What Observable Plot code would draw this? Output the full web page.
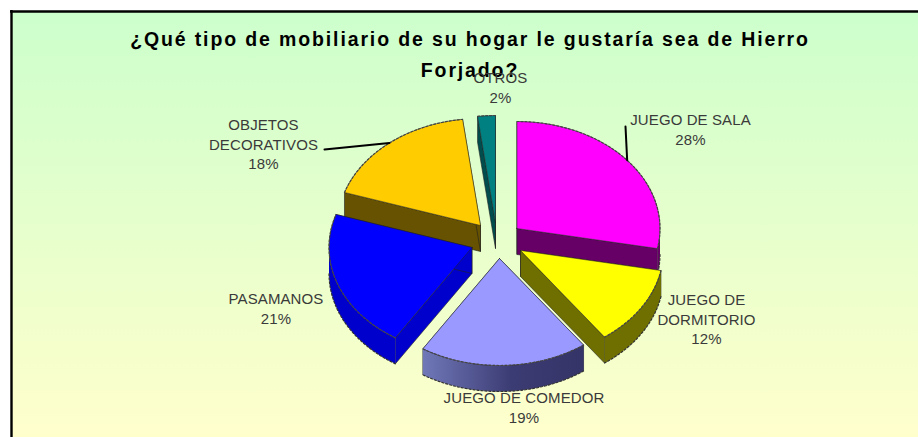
<!DOCTYPE html>
<html lang="es">
<head>
<meta charset="utf-8">
<style>html,body{margin:0;padding:0;background:#fff;overflow:hidden}</style>
<script src="https://cdn.jsdelivr.net/npm/d3@7"></script>
<script src="https://cdn.jsdelivr.net/npm/@observablehq/plot@0.6"></script>
</head>
<body>
<div id="chart"></div>
<script>
const titleLines = ["¿Qué tipo de mobiliario de su hogar le gustaría sea de Hierro", "Forjado?"];
const categories = ["JUEGO DE SALA", "JUEGO DE DORMITORIO", "JUEGO DE COMEDOR", "PASAMANOS", "OBJETOS DECORATIVOS", "OTROS"];
const values = [28, 12, 19, 21, 18, 2];
const labelLines = [["JUEGO DE SALA"], ["JUEGO DE", "DORMITORIO"], ["JUEGO DE COMEDOR"], ["PASAMANOS"], ["OBJETOS", "DECORATIVOS"], ["OTROS"]];

// layout only: exploded slice centres, label centres, colours
const apexX = [516.5, 520, 499, 471.5, 480, 495];
const apexY = [228, 250, 258, 247, 225, 222];
const labelX = [690, 706, 523.5, 275.5, 263, 500];
const labelY = [119.5, 300, 398, 299, 125, 78];
const topColors = ["#ff00ff", "#ffff00", "#9999ff", "#0000ff", "#ffcc00", "#008080"];
const sideColors = ["#660066", "#6f6f00", "url(#comedorSide)", "#0000cc", "#665200", "#004d4d"];
const edgeColors = ["#660066", "#6f6f00", "#4d4d88", "#0000cc", "#665200", "#004d4d"];
const leaderSlices = [0, 4];
const leaderEndX = [625, 324];
const leaderEndY = [126, 149];
const drawOrder = [5, 4, 0, 3, 1, 2];
const rx = 143, ry = 107, depth = 26;

const total = d3.sum(values);
const cum = d3.cumsum(values);
const angle = (v) => (v / total) * 2 * Math.PI;
const slices = values.map((v, i) => ({
  i, a0: angle(cum[i] - v), a1: angle(cum[i]), ax: apexX[i], ay: apexY[i]
}));
const rim = (s, a, dz = 0) => ({x: s.ax + rx * Math.sin(a), y: s.ay - ry * Math.cos(a) + dz});
const arc = (s, a0, a1, dz = 0) => {
  const n = Math.max(2, Math.ceil(Math.abs(a1 - a0) / 0.03));
  return d3.range(n + 1).map((k) => rim(s, a0 + ((a1 - a0) * k) / n, dz));
};
const poly = (pts, fill, stroke, sw = 0.7) =>
  Plot.line([...pts, pts[0]], {x: "x", y: "y", fill, stroke, strokeWidth: sw, curve: "linear"});

const marks = [];
// background panel with only its top and left rules
marks.push(() => {
  const ns = "http://www.w3.org/2000/svg";
  const defs = document.createElementNS(ns, "defs");
  defs.innerHTML = `
    <linearGradient id="panelBg" x1="0" y1="0" x2="0" y2="1">
      <stop offset="0" stop-color="#ccffcc"/><stop offset="1" stop-color="#ffffcc"/>
    </linearGradient>
    <linearGradient id="comedorSide" x1="0" y1="0" x2="1" y2="0">
      <stop offset="0" stop-color="#7078b8"/><stop offset="0.55" stop-color="#3c3c74"/><stop offset="1" stop-color="#343468"/>
    </linearGradient>`;
  return defs;
});
marks.push(Plot.rect([{x1: 11, x2: 918, y1: 11, y2: 437}], {x1: "x1", x2: "x2", y1: "y1", y2: "y2", fill: "url(#panelBg)"}));
marks.push(Plot.ruleY([11], {x1: 10, x2: 918, stroke: "#000", strokeWidth: 2.4}));
marks.push(Plot.ruleX([11], {y1: 10, y2: 437, stroke: "#000", strokeWidth: 2.4}));

for (const i of drawOrder) {
  const s = slices[i];
  const apex = {x: s.ax, y: s.ay};
  const apexB = {x: s.ax, y: s.ay + depth};
  const side = sideColors[i], edge = edgeColors[i];
  // radial faces
  for (const a of [s.a0, s.a1]) {
    const r = rim(s, a), rb = rim(s, a, depth);
    marks.push(poly([apex, r, rb, apexB], edge, "#222", 0.6));
  }
  // outer rim (only the part facing the viewer)
  const lo = Math.max(s.a0, Math.PI / 2), hi = Math.min(s.a1, 1.5 * Math.PI);
  if (hi > lo) {
    const upper = arc(s, lo, hi), lower = arc(s, hi, lo, depth);
    marks.push(poly([...upper, ...lower], side, "none"));
    marks.push(Plot.line(arc(s, lo, hi, depth), {x: "x", y: "y", stroke: "#333", strokeWidth: 1.2, strokeDasharray: "2 2"}));
  }
  // top face
  marks.push(poly([apex, ...arc(s, s.a0, s.a1)], topColors[i], "#222", 0.5));
  marks.push(Plot.line(arc(s, s.a0, s.a1), {x: "x", y: "y", stroke: "#444", strokeWidth: 1.2, strokeDasharray: "2 2"}));
}

// leader lines run from a slice's mid-angle to its label
leaderSlices.forEach((si, k) => {
  const s = slices[si];
  marks.push(Plot.line([rim(s, (s.a0 + s.a1) / 2), {x: leaderEndX[k], y: leaderEndY[k]}],
    {x: "x", y: "y", stroke: "#000", strokeWidth: 2}));
});

const spaced = (ls) => (index, scales, vals, dims, ctx, next) => {
  const g = next(index, scales, vals, dims, ctx);
  g.style.letterSpacing = ls;
  return g;
};

// title
marks.push(Plot.text(titleLines, {
  x: () => 469.5, y: (d, i) => [39, 70][i], text: (d) => d,
  fontFamily: "Liberation Sans, Arial, sans-serif", fontWeight: "bold", fontSize: 19.5,
  fill: "#000", textAnchor: "middle", render: spaced("1.87px")
}));

// labels
const labelRows = categories.flatMap((c, i) => {
  const lines = [...labelLines[i], `${values[i]}%`];
  return lines.map((t, k) => ({t, x: labelX[i], y: labelY[i] + k * (i === 0 ? 20.5 : 19.3)}));
});
marks.push(Plot.text(labelRows, {
  x: "x", y: "y", text: "t", fontFamily: "Liberation Sans, Arial, sans-serif",
  fontSize: 15, fill: "#3a3a3a", textAnchor: "middle", render: spaced("0.1px")
}));

const plot = Plot.plot({
  width: 918, height: 437, margin: 0,
  x: {domain: [0, 918], range: [0, 918], axis: null},
  y: {domain: [0, 437], range: [0, 437], axis: null},
  style: {background: "#fff"},
  marks
});
document.getElementById("chart").append(plot);
</script>
</body>
</html>
